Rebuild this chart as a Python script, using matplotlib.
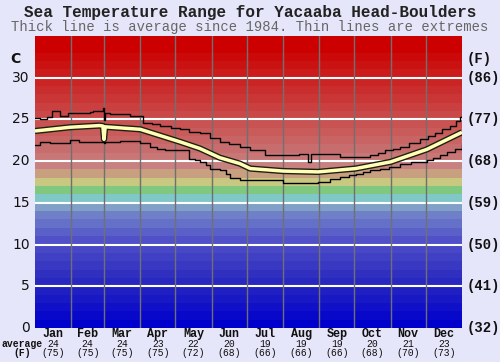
import numpy as np
import matplotlib
matplotlib.use("Agg")
import matplotlib.pyplot as plt

months = ["Jan", "Feb", "Mar", "Apr", "May", "Jun", "Jul", "Aug", "Sep", "Oct", "Nov", "Dec"]
month_avg_c = [24, 24, 24, 23, 22, 20, 19, 19, 19, 20, 21, 23]
month_avg_f = [75, 75, 75, 75, 72, 68, 66, 66, 66, 68, 70, 73]
month_starts = [0, 31, 59, 90, 120, 151, 181, 212, 243, 273, 304, 334, 365]

avg_days = [0, 30, 55, 58, 59, 60, 90, 107, 124, 141, 158, 175, 184, 212, 242, 274, 304, 335, 365]
avg_vals = [23.6, 24.05, 24.25, 24.2, 22.6, 24.1, 23.8, 23.05, 22.3, 21.5, 20.4, 19.7, 19.1, 18.8, 18.7, 19.1, 19.9, 21.4, 23.45]

max_days = [0, 4, 10, 14.5, 21.5, 28, 47, 50, 58, 59, 60, 64, 81, 92, 100, 107, 116, 124, 132, 141, 150, 158, 166, 175, 184, 197, 226, 233, 236, 261, 286, 293, 299, 306, 312, 320, 329, 336, 342, 348, 355, 360, 363, 365]
max_vals = [25.2, 25.0, 25.3, 26.0, 25.45, 25.75, 25.85, 26.0, 26.3, 24.9, 25.8, 25.6, 25.4, 24.5, 24.4, 24.25, 24.0, 23.8, 23.5, 23.3, 22.8, 22.3, 22.0, 21.7, 21.3, 20.7, 20.9, 19.9, 20.9, 20.5, 20.7, 21.0, 21.3, 21.5, 21.7, 22.2, 22.7, 23.0, 23.3, 23.8, 24.25, 24.8, 25.3, 25.4]

min_days = [0, 4, 13, 30, 38, 56, 59, 60, 73, 90, 98, 104, 111, 132, 137, 141, 146, 150, 158, 163, 167, 175, 212, 242, 252, 261, 268, 274, 280, 286, 295, 303, 312, 321, 335, 340, 346, 352, 359, 365]
min_vals = [21.9, 22.3, 22.2, 22.5, 22.3, 22.3, 22.2, 22.3, 22.4, 22.15, 21.7, 21.5, 21.3, 20.3, 20.1, 19.9, 19.5, 19.1, 18.9, 18.4, 18.0, 17.7, 17.4, 17.5, 17.8, 18.1, 18.3, 18.5, 18.7, 18.9, 19.1, 19.3, 19.6, 19.9, 20.1, 20.4, 20.7, 21.1, 21.5, 21.9]

left_ticks = [0, 5, 10, 15, 20, 25, 30]
right_labels = ["(32)", "(41)", "(50)", "(59)", "(68)", "(77)", "(86)"]

# band colours (1 degree bands)
blues = ["#0000cc", "#0808ca", "#1010c8", "#1818c4", "#2020c2", "#2828c0", "#3030c0",
         "#3838c2", "#4040c4", "#4848c6", "#5050c8", "#5a60c8", "#6570c8", "#7080c8", "#80a0c8"]
mids = ["#80c8c8", "#80c880", "#c8c880", "#c8a080"]
r0 = np.array([200, 128, 128]); r1 = np.array([204, 0, 0])
reds = []
for i in range(16):
    t = min(i / 14, 1.0)
    c = r0 + (r1 - r0) * t
    reds.append('#%02x%02x%02x' % tuple(int(v) for v in c))
band_colors = blues + mids + reds

bg = "#e6e6fa"
fig = plt.figure(figsize=(5, 3.62), dpi=100, facecolor=bg)
ax = fig.add_axes([0.07, 0.094, 0.854, 0.807])
ax.set_xlim(0, 365)
ax.set_ylim(0, 35)
for i, c in enumerate(band_colors):
    ax.axhspan(i, i + 1, color=c, lw=0, zorder=0)
for t in left_ticks[1:]:
    ax.axhline(t, color="white", lw=1.5, zorder=1)
for d in month_starts[1:-1]:
    ax.axvline(d, color="#707070", lw=1, zorder=1)

ax.plot(max_days, max_vals, color="black", lw=1.0, drawstyle="steps-post", zorder=3)
ax.plot(min_days, min_vals, color="black", lw=1.0, drawstyle="steps-post", zorder=3)
ax.plot(avg_days, avg_vals, color="#202010", lw=4.5, zorder=4, solid_capstyle="butt")
ax.plot(avg_days, avg_vals, color="#ffffb8", lw=2.5, zorder=5, solid_capstyle="butt")

ax.set_xticks([])
ax.set_yticks([])
for s in ax.spines.values():
    s.set_visible(False)

mono = "Liberation Mono"
fig.text(0.5, 0.965, "Sea Temperature Range for Yacaaba Head-Boulders", ha="center", va="center",
         family=mono, weight="bold", fontsize=11.5, color="#222222")
fig.text(0.5, 0.925, "Thick line is average since 1984. Thin lines are extremes", ha="center", va="center",
         family=mono, fontsize=10, color="#666666")

trans = ax.get_yaxis_transform()
for t, lab in zip(left_ticks, right_labels):
    ax.text(-0.012, t, str(t), transform=trans, ha="right", va="center", fontsize=10, color="#111111",
            family="DejaVu Sans")
    ax.text(1.012, t, lab, transform=trans, ha="left", va="center", fontsize=10, color="#111111",
            family=mono, weight="bold")
ax.text(-0.035, 32.2, "C", transform=trans, ha="right", va="center", fontsize=10, color="#111111",
        family="DejaVu Sans", weight="bold")
ax.text(1.012, 32.2, "(F)", transform=trans, ha="left", va="center", fontsize=10, color="#111111",
        family=mono, weight="bold")

for i, m in enumerate(months):
    mid = (month_starts[i] + month_starts[i + 1]) / 2
    xf = 0.07 + 0.854 * mid / 365
    fig.text(xf, 0.078, m, ha="center", va="center", family=mono, weight="bold",
             fontsize=8.5, color="#111111")
    fig.text(xf, 0.051, str(month_avg_c[i]), ha="center", va="center", family=mono,
             fontsize=7, color="#111111")
    fig.text(xf, 0.025, "(%d)" % month_avg_f[i], ha="center", va="center", family=mono,
             fontsize=7, color="#111111")
fig.text(0.045, 0.051, "average", ha="center", va="center", family=mono, weight="bold", fontsize=7, color="#111111")
fig.text(0.045, 0.025, "(F)", ha="center", va="center", family=mono, weight="bold", fontsize=7, color="#111111")

fig.savefig("out.png", dpi=100, facecolor=bg)
